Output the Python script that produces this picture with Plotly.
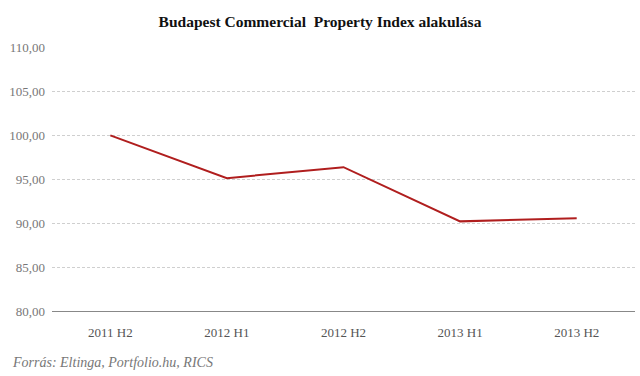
import plotly.graph_objects as go

categories = ["2011 H2", "2012 H1", "2012 H2", "2013 H1", "2013 H2"]
values = [100.0, 95.15, 96.4, 90.25, 90.6]
y_ticks = [80, 85, 90, 95, 100, 105, 110]

fig = go.Figure()
fig.add_trace(go.Scatter(
    x=categories, y=values, mode="lines",
    line=dict(color="#b01e1e", width=2),
    hoverinfo="skip", showlegend=False,
))

fig.update_layout(
    width=640, height=376,
    margin=dict(l=52, r=5, t=47, b=64, autoexpand=False),
    paper_bgcolor="white", plot_bgcolor="white",
    separators=",.",
    title=dict(
        text="<b>Budapest Commercial  Property Index alakulása</b>",
        x=0.5, xanchor="center", y=1 - 22/376, yanchor="middle",
        font=dict(family="Liberation Serif", size=15.5, color="#111111"),
    ),
    xaxis=dict(
        type="category", showgrid=False, zeroline=False, automargin=False,
        showline=False, ticks="outside", ticklen=8, tickcolor="rgba(0,0,0,0)",
        tickfont=dict(family="Liberation Serif", size=13, color="#555555"),
        range=[-0.5, 4.5],
    ),
    yaxis=dict(
        range=[79.97, 110.03], tickvals=y_ticks, tickformat=".2f", automargin=False,
        showgrid=True, gridcolor="#cfcfcf", griddash="3px,2px", gridwidth=1,
        zeroline=False, showline=False, ticks="",
        tickfont=dict(family="Liberation Serif", size=13, color="#777777"),
        ticklabelstandoff=6,
    ),
    shapes=[dict(type="line", xref="paper", yref="y", x0=0, x1=1, y0=80, y1=80,
                 line=dict(color="#888888", width=1.5))],
    annotations=[dict(
        text="<i>Forrás: Eltinga, Portfolio.hu, RICS</i>",
        xref="paper", yref="paper", x=-42/583, y=-50/265,
        xanchor="left", yanchor="middle", showarrow=False,
        font=dict(family="Liberation Serif", size=14, color="#777777"),
    )],
)

fig.write_html("out.html", config={"displayModeBar": False},
               post_script="document.body.style.margin='0';")
